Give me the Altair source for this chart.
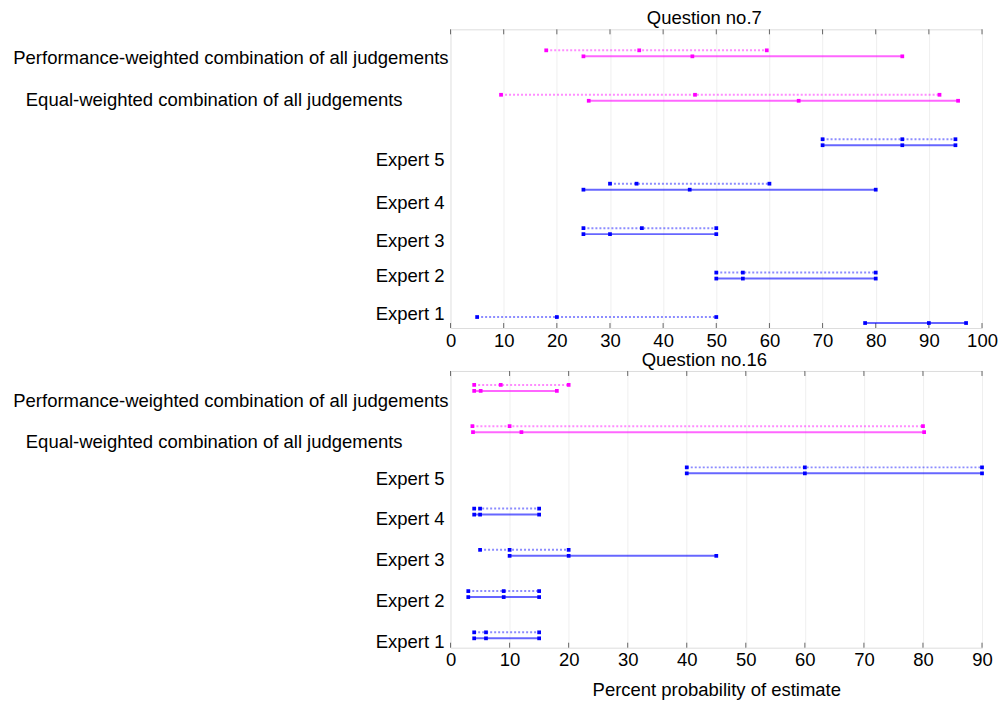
import altair as alt
import pandas as pd

FONT = "Liberation Sans"

rows = [
    "Performance-weighted combination of all judgements",
    "Equal-weighted combination of all judgements",
    "Expert 5",
    "Expert 4",
    "Expert 3",
    "Expert 2",
    "Expert 1",
]
groups = ["combo", "combo", "expert", "expert", "expert", "expert", "expert"]

# Question no.7  (dotted = first estimate, solid = second estimate)
q7_dash_lo = [18, 9.5, 70, 30, 25, 50, 5]
q7_dash_mid = [35.5, 46, 85, 35, 36, 55, 20]
q7_dash_hi = [59.5, 92, 95, 60, 50, 80, 50]
q7_solid_lo = [25, 26, 70, 25, 25, 50, 78]
q7_solid_mid = [45.5, 65.5, 85, 45, 30, 55, 90]
q7_solid_hi = [85, 95.5, 95, 80, 50, 80, 97]

# Question no.16
q16_dash_lo = [4, 3.7, 40, 4, 5, 3, 4]
q16_dash_mid = [8.5, 10, 60, 5, 10, 9, 6]
q16_dash_hi = [20, 80, 90, 15, 20, 15, 15]
q16_solid_lo = [4, 3.8, 40, 4, 10, 3, 4]
q16_solid_mid = [5.1, 12, 60, 5, 20, 9, 6]
q16_solid_hi = [18, 80.2, 90, 15, 45, 15, 15]

# row label anchor positions (in row units)
q7_label_pos = [0.11, 1.04, 2.39, 3.36, 4.23, 5.0, 5.86]
q16_label_pos = [0.33, 1.31, 2.2, 3.18, 4.18, 5.17, 6.17]

q7_ticks = [0, 10, 20, 30, 40, 50, 60, 70, 80, 90, 100]
q16_ticks = [0, 10, 20, 30, 40, 50, 60, 70, 80, 90]

COLORS = alt.Scale(domain=["combo", "expert"], range=["#ff00ff", "#0000ff"])
W = 532


def panel(title, dash, solid, ticks, xmax, height, ydom, label_pos, xtitle, toff):
    recs = []
    for i, lab in enumerate(rows):
        recs.append(dict(row=i, label=lab, group=groups[i], kind="dashed",
                         lo=dash[0][i], mid=dash[1][i], hi=dash[2][i]))
        recs.append(dict(row=i, label=lab, group=groups[i], kind="solid",
                         lo=solid[0][i], mid=solid[1][i], hi=solid[2][i]))
    df = pd.DataFrame(recs)
    xscale = alt.Scale(domain=[0, xmax], nice=False, zero=False)
    axis = alt.Axis(values=ticks, ticks=False, tickSize=0, domain=False, grid=True,
                    gridColor="#efefef", labelFontSize=18.5, labelFont=FONT,
                    labelColor="black", labelPadding=3, labelFlush=False,
                    labelOverlap=False, titleFont=FONT, titleFontSize=18.5,
                    titleFontWeight="normal", titleColor="black", titlePadding=11)
    yscale = alt.Scale(domain=ydom, reverse=True, nice=False, zero=False)
    Y = alt.Y("row:Q", scale=yscale, axis=None)
    C = alt.Color("group:N", scale=COLORS, legend=None)

    def X(field):
        return alt.X(field, scale=xscale, axis=axis, title=xtitle)

    base = alt.Chart(df)
    dash_rule = base.transform_filter("datum.kind == 'dashed'").mark_rule(
        strokeDash=[2, 2], strokeWidth=2, opacity=0.45, yOffset=-3
    ).encode(x=X("lo:Q"), x2="hi:Q", y=Y, color=C)
    solid_rule = base.transform_filter("datum.kind == 'solid'").mark_rule(
        strokeWidth=2, opacity=0.6, yOffset=3
    ).encode(x=X("lo:Q"), x2="hi:Q", y=Y, color=C)
    dash_pts = base.transform_filter("datum.kind == 'dashed'").transform_fold(
        ["lo", "mid", "hi"], as_=["stat", "val"]
    ).mark_square(size=14, opacity=1, yOffset=-3).encode(x=X("val:Q"), y=Y, color=C)
    solid_pts = base.transform_filter("datum.kind == 'solid'").transform_fold(
        ["lo", "mid", "hi"], as_=["stat", "val"]
    ).mark_square(size=14, opacity=1, yOffset=3).encode(x=X("val:Q"), y=Y, color=C)

    tdf = pd.DataFrame({"t": ticks})
    tick_top = alt.Chart(tdf).mark_rule(color="#666", strokeWidth=1).encode(
        x=X("t:Q"), y=alt.value(0), y2=alt.value(5))
    tick_bot = alt.Chart(tdf).mark_rule(color="#666", strokeWidth=1).encode(
        x=X("t:Q"), y=alt.value(height), y2=alt.value(height - 5))

    ldf = pd.DataFrame({"label": rows, "pos": label_pos, "idx": list(range(len(rows)))})
    lab_perf = alt.Chart(ldf).transform_filter("datum.idx == 0").mark_text(
        align="right", baseline="middle", dx=-2, fontSize=18.5, font=FONT, color="black"
    ).encode(x=alt.value(0), y=alt.Y("pos:Q", scale=yscale, axis=None), text="label:N")
    lab_eq = alt.Chart(ldf).transform_filter("datum.idx == 1").mark_text(
        align="right", baseline="middle", dx=-48, fontSize=18.5, font=FONT, color="black"
    ).encode(x=alt.value(0), y=alt.Y("pos:Q", scale=yscale, axis=None), text="label:N")
    lab_exp = alt.Chart(ldf).transform_filter("datum.idx >= 2").mark_text(
        align="right", baseline="middle", dx=-6, fontSize=18.5, font=FONT, color="black"
    ).encode(x=alt.value(0), y=alt.Y("pos:Q", scale=yscale, axis=None), text="label:N")

    return alt.layer(
        tick_top, tick_bot, dash_rule, solid_rule, dash_pts, solid_pts,
        lab_perf, lab_eq, lab_exp
    ).properties(
        width=W, height=height,
        title=alt.TitleParams(title, fontSize=18.5, font=FONT, fontWeight="normal",
                              color="black", offset=toff, dx=-12),
    )


top = panel("Question no.7", (q7_dash_lo, q7_dash_mid, q7_dash_hi),
            (q7_solid_lo, q7_solid_mid, q7_solid_hi), q7_ticks, 100, 299,
            [-0.54, 6.18], q7_label_pos, None, 1)
bottom = panel("Question no.16", (q16_dash_lo, q16_dash_mid, q16_dash_hi),
               (q16_solid_lo, q16_solid_mid, q16_solid_hi), q16_ticks, 90, 277,
               [-0.41, 6.30], q16_label_pos, "Percent probability of estimate", 1)

chart = alt.vconcat(top, bottom, spacing=0).properties(
    padding={"left": 4, "top": 0, "right": 0, "bottom": 0}
).configure_view(stroke="#8c8c8c", strokeWidth=1.5).configure(background="white")

chart.save("out.html", embed_options={"renderer": "svg", "actions": False})
